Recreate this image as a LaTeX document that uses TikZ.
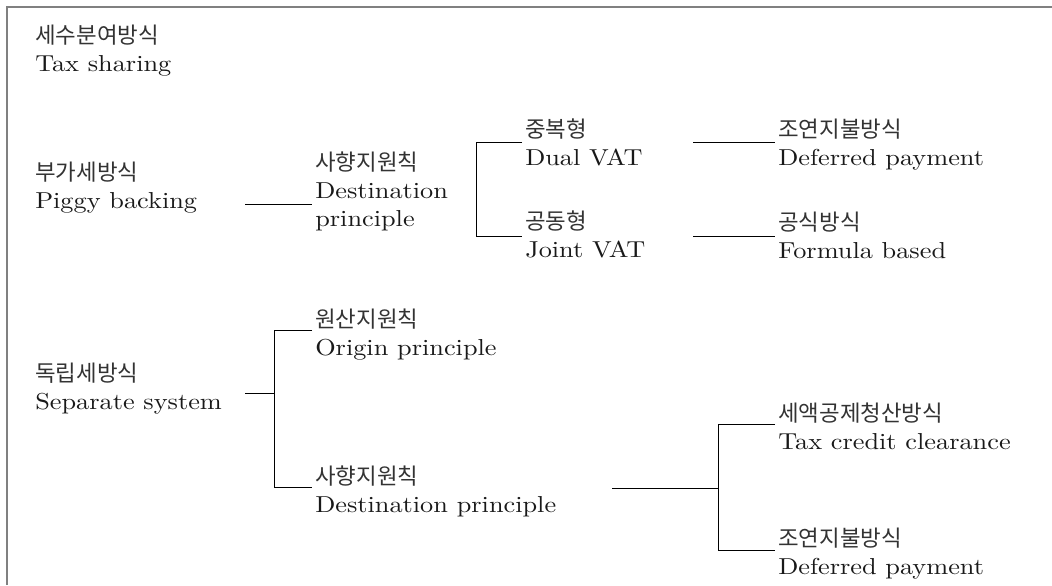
\documentclass[tikz,border=0pt]{standalone}
\usepackage{fontspec}
\setmainfont{lmroman10-regular.otf}[FakeStretch=1.14]
\newfontfamily\krfont{Noto Sans CJK KR}
\newcommand{\kotext}[1]{{\krfont\fontsize{16.8}{21}\selectfont\color{black!80}#1}}
\begin{document}
\begin{tikzpicture}[x=0.75pt,y=0.75pt,yscale=-1,xscale=1,
    itemtext/.style={anchor=base west,inner xsep=2.25pt,inner ysep=0pt,align=left,text=black!90,font=\fontsize{17.3}{21}\selectfont},
    treeline/.style={line width=0.65pt}]
\useasboundingbox (0,0) rectangle (1052,585);
%Frame
\draw [color=gray, line width=1.5pt] (6.5,585) -- (6.5,7) -- (1052,7);

% Text Node (anchored at the baseline of the last line)
\node [itemtext] (taxshare) at (32,72) {\kotext{세수분여방식}\\Tax sharing};
% Text Node
\node [itemtext] (piggy) at (32,208) {\kotext{부가세방식}\\Piggy backing};
% Text Node
\node [itemtext] (destA) at (312,226) {\kotext{사향지원칙}\\Destination\\principle};
% Text Node
\node [itemtext] (dualvat) at (522,165) {\kotext{중복형}\\Dual VAT};
% Text Node
\node [itemtext] (jointvat) at (522,257) {\kotext{공동형}\\Joint VAT};
% Text Node
\node [itemtext] (deferA) at (775,165) {\kotext{조연지불방식}\\Deferred payment};
% Text Node
\node [itemtext] (formula) at (775,258) {\kotext{공식방식}\\Formula based};
% Text Node
\node [itemtext] (separate) at (32,409) {\kotext{독립세방식}\\Separate system};
% Text Node
\node [itemtext] (origin) at (312,355) {\kotext{원산지원칙}\\Origin principle};
% Text Node
\node [itemtext] (destB) at (312,512) {\kotext{사향지원칙}\\Destination principle};
% Text Node
\node [itemtext] (credit) at (775,449) {\kotext{세액공제청산방식}\\Tax credit clearance};
% Text Node
\node [itemtext] (deferB) at (775,574) {\kotext{조연지불방식}\\Deferred payment};

%Straight Lines
\coordinate (pigOut) at (245,204);
\draw [treeline] (pigOut) -- (pigOut -| destA.west);
%Bracket
\coordinate (dualJ) at (476,142);
\coordinate (jointJ) at (476,236);
\draw [treeline] (dualJ -| dualvat.west) -- (dualJ) -- (jointJ) -- (jointJ -| jointvat.west);
%Straight Lines
\coordinate (dualOut) at (693,142);
\draw [treeline] (dualOut) -- (dualOut -| deferA.west);
\coordinate (jointOut) at (693,236);
\draw [treeline] (jointOut) -- (jointOut -| formula.west);
%Bracket
\coordinate (sepOut) at (245,393);
\coordinate (sepA) at (274,330);
\coordinate (sepB) at (274,487);
\draw [treeline] (sepOut) -- (sepOut -| sepA);
\draw [treeline] (sepA -| origin.west) -- (sepA) -- (sepB) -- (sepB -| destB.west);
%Bracket
\coordinate (destOut) at (612,488);
\coordinate (creditJ) at (718,424);
\coordinate (deferJ) at (718,550);
\draw [treeline] (destOut) -- (destOut -| creditJ);
\draw [treeline] (creditJ -| credit.west) -- (creditJ) -- (deferJ) -- (deferJ -| deferB.west);
\end{tikzpicture}
\end{document}
